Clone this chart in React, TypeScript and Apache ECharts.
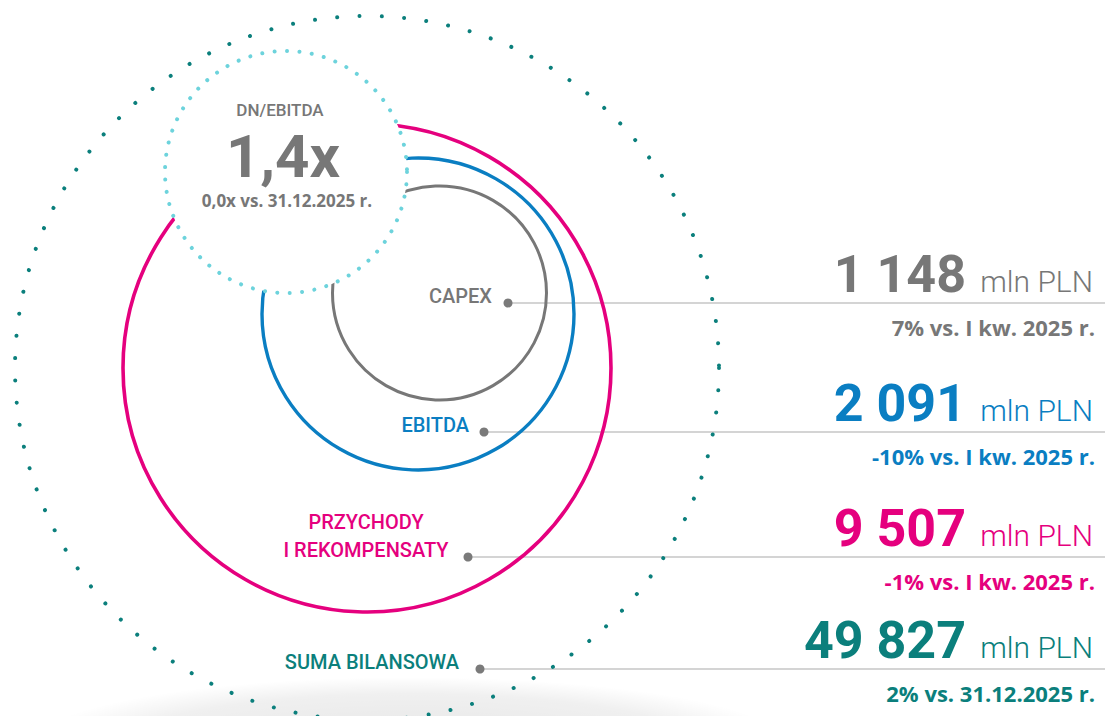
import React, { useEffect, useRef } from "react";
import * as echarts from "echarts";

// ---------- data ----------
const metricNames = ["CAPEX", "EBITDA", "PRZYCHODY\nI REKOMPENSATY", "SUMA BILANSOWA"];
const metricValues = [1148, 2091, 9507, 49827];
const metricChanges = [7, -10, -1, 2];
const metricBases = ["I kw. 2025 r.", "I kw. 2025 r.", "I kw. 2025 r.", "31.12.2025 r."];
const metricUnit = "mln PLN";
const ratioName = "DN/EBITDA";
const ratioValue = 1.4;
const ratioChange = 0.0;
const ratioBase = "31.12.2025 r.";

// ---------- styles / layout ----------
const FONT = "Roboto, 'Open Sans', sans-serif";
const FONT_WIDE = "'Open Sans', Roboto, sans-serif";
const metricColors = ["#777777", "#0a7ec2", "#e5007e", "#0b7f7c"];
const ringLayout = [
  { cx: 439.5, cy: 293, r: 107, w: 3, dotted: false },
  { cx: 418, cy: 314, r: 156, w: 3.4, dotted: false },
  { cx: 367, cy: 368, r: 244, w: 3.6, dotted: false },
  { cx: 367, cy: 368, r: 352, w: 4, dotted: true },
];
const ratioCircle = { cx: 286, cy: 172, r: 121 };
const rowLineY = [303, 432, 557, 669];
const rowDotX = [508, 484, 468, 480];
const labelAnchor = [
  { x: 492, align: "right" },
  { x: 469, align: "right" },
  { x: 366, align: "center" },
  { x: 459, align: "right" },
];

const fmtInt = (v: number) => String(v).replace(/\B(?=(\d{3})+(?!\d))/g, " ");
const fmtRatio = (v: number) => v.toFixed(1).replace(".", ",") + "x";

// place text by its alphabetic baseline (svg renderer uses central baseline)
const txt = (
  text: string,
  x: number,
  baseline: number,
  size: number,
  weight: string | number,
  fill: string,
  align: string,
  family: string = FONT,
  lineHeight?: number
) => ({
  type: "text",
  z: 50,
  style: {
    text,
    x,
    y: baseline - size * (family === FONT ? 0.34 : 0.37),
    fill,
    font: `${weight} ${size}px ${family}`,
    textAlign: align,
    textVerticalAlign: "middle",
    ...(lineHeight ? { lineHeight } : {}),
  },
});

export default function App() {
  const ref = useRef<HTMLDivElement>(null);
  useEffect(() => {
    document.body.style.margin = "0";
    const chart = echarts.init(ref.current!, undefined, { renderer: "svg" });
    const elements: any[] = [];

    // bottom soft shadow
    elements.push({
      type: "ellipse",
      z: 1,
      shape: { cx: 410, cy: 745, rx: 380, ry: 68 },
      style: {
        fill: new echarts.graphic.RadialGradient(0.5, 0.5, 0.5, [
          { offset: 0, color: "rgba(0,0,0,0.10)" },
          { offset: 0.75, color: "rgba(0,0,0,0.06)" },
          { offset: 1, color: "rgba(0,0,0,0)" },
        ]),
      },
    });

    // leader lines and dots
    metricValues.forEach((_, i) => {
      elements.push({
        type: "line",
        z: 5,
        shape: { x1: rowDotX[i], y1: rowLineY[i], x2: 1105, y2: rowLineY[i] },
        style: { stroke: "#d4d4d4", lineWidth: 2 },
      });
      elements.push({
        type: "circle",
        z: 30,
        shape: { cx: rowDotX[i], cy: rowLineY[i], r: 4.5 },
        style: { fill: "#7a7a7a" },
      });
    });

    // rings
    ringLayout.forEach((g, i) => {
      elements.push({
        type: "circle",
        z: 10,
        shape: { cx: g.cx, cy: g.cy, r: g.r },
        style: g.dotted
          ? { fill: "none", stroke: metricColors[i], lineWidth: g.w, lineDash: [0.01, 22.3], lineCap: "round" }
          : { fill: "none", stroke: metricColors[i], lineWidth: g.w },
      });
    });

    // ratio circle (white, dotted)
    elements.push({
      type: "circle",
      z: 20,
      shape: { cx: ratioCircle.cx, cy: ratioCircle.cy, r: ratioCircle.r },
      style: { fill: "#ffffff", stroke: "#6dd3dc", lineWidth: 4, lineDash: [0.01, 12.4], lineCap: "round" },
    });
    elements.push(txt(ratioName, 280, 116, 17, 500, "#777777", "center", FONT, 16));
    elements.push(txt(fmtRatio(ratioValue), 283, 177, 60, "bold", "#777777", "center", FONT, 44));
    elements.push(
      txt(`${fmtRatio(ratioChange)} vs. ${ratioBase}`, 287, 207, 17, "bold", "#777777", "center", FONT_WIDE, 16)
    );

    // labels and values
    metricNames.forEach((name, i) => {
      const color = metricColors[i];
      const lines = name.split("\n");
      lines.forEach((ln, k) => {
        const base = rowLineY[i] - (lines.length - 1 - k) * 28;
        elements.push(txt(ln, labelAnchor[i].x, base, 20, 500, color, labelAnchor[i].align));
      });
      const bigBase = rowLineY[i] - 11;
      elements.push(txt(fmtInt(metricValues[i]), 966, bigBase, 52, "bold", color, "right"));
      elements.push(txt(metricUnit, 1093, bigBase, 30, 300, color, "right"));
      const ch = metricChanges[i];
      elements.push(
        txt(`${ch}% vs. ${metricBases[i]}`, 1095, rowLineY[i] + 32, 22, "bold", color, "right", FONT_WIDE)
      );
    });

    chart.setOption({
      animation: false,
      backgroundColor: "#ffffff",
      graphic: { elements },
    });
    return () => chart.dispose();
  }, []);
  return <div ref={ref} style={{ width: 1105, height: 716 }} />;
}
